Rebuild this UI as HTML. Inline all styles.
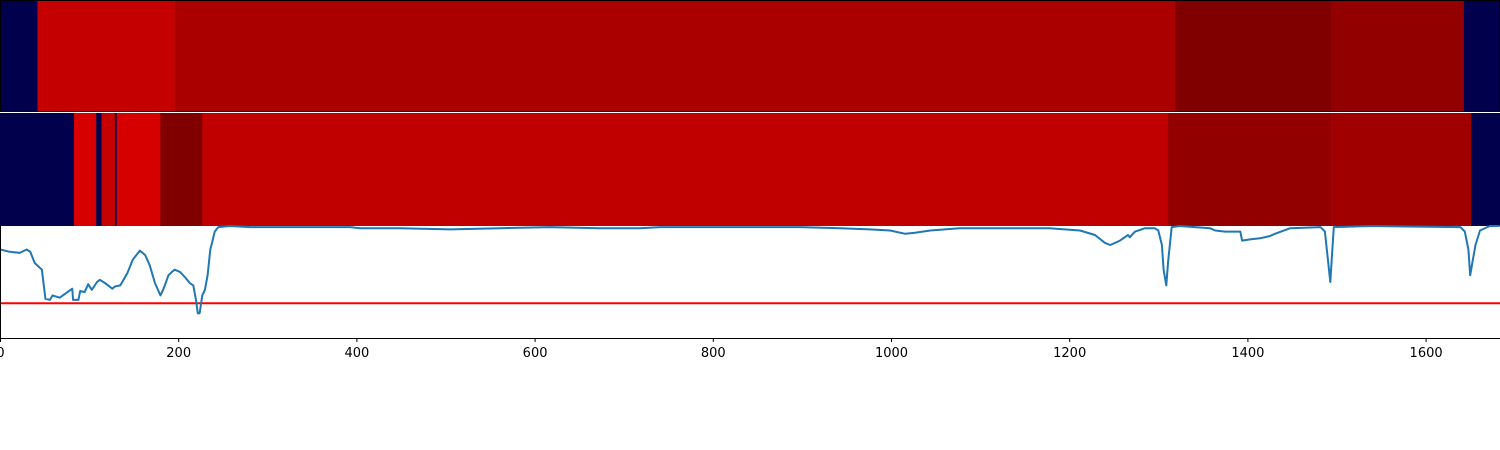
<!DOCTYPE html>
<html><head><meta charset="utf-8"><style>
html,body{margin:0;padding:0;background:#fff;}
svg{display:block;}
</style></head><body>
<svg id="chart" width="1500" height="450" xmlns="http://www.w3.org/2000/svg"></svg>
<script>
const xTicks=[0,200,400,600,800,1000,1200,1400,1600];
const row1Starts=[0,42,196,1319,1494,1643];
const row1Values=[0,0.865,0.917,1.0,0.964,0];
const row2Starts=[0,83,108,114,129,131,180,227,1311,1494,1651];
const row2Values=[0,0.83,0,0.865,0,0.83,1.0,0.874,0.964,0.937,0];
const lineX=[0,11,22,30,34,39,47,51,56,59,67,81,82,88,90,95,99,103,109,112,118,126,129,135,143,149,157,163,168,174,180,183,185,189,193,196,202,208,213,217,220,222,224,227,230,233,236,239,241,245,258,281,337,393,404,449,505,561,617,673,718,741,786,898,943,976,999,1016,1027,1044,1077,1122,1178,1212,1229,1240,1246,1257,1266,1268,1274,1285,1296,1300,1304,1306,1309,1311,1315,1324,1358,1364,1375,1392,1394,1403,1414,1425,1431,1448,1482,1487,1491,1493,1495,1497,1538,1639,1644,1648,1650,1652,1656,1661,1672,1683];
const lineV=[0.79,0.77,0.76,0.79,0.77,0.67,0.61,0.35,0.34,0.38,0.36,0.44,0.34,0.34,0.42,0.41,0.48,0.43,0.50,0.52,0.49,0.44,0.46,0.47,0.58,0.70,0.78,0.74,0.65,0.49,0.38,0.43,0.47,0.56,0.59,0.61,0.59,0.54,0.49,0.47,0.34,0.22,0.22,0.38,0.43,0.56,0.79,0.88,0.95,0.99,1.0,0.99,0.99,0.99,0.98,0.98,0.97,0.98,0.99,0.98,0.98,0.99,0.99,0.99,0.98,0.97,0.96,0.93,0.94,0.96,0.98,0.98,0.98,0.96,0.92,0.85,0.83,0.87,0.92,0.90,0.95,0.98,0.98,0.96,0.83,0.61,0.47,0.68,0.99,1.0,0.98,0.96,0.95,0.95,0.87,0.88,0.89,0.91,0.93,0.98,0.99,0.95,0.65,0.50,0.74,0.99,1.0,0.99,0.95,0.79,0.56,0.65,0.83,0.96,1.0,1.0];
const threshold=0.31;

const NS='http://www.w3.org/2000/svg';
const svg=document.getElementById('chart');
const X0=0,X1=1500,XMAX=1683.5;
const xs=v=>X0+(v/XMAX)*(X1-X0);
const LT=226,LB=338;
const ys=v=>LB-v*(LB-LT);
function cmap(v){ // seismic
  let r,g,b;
  if(v<0.25){r=0;g=0;b=0.3+v/0.25*0.7;}
  else if(v<0.5){const t=(v-0.25)/0.25;r=t;g=t;b=1;}
  else if(v<0.75){const t=(v-0.5)/0.25;r=1;g=1-t;b=1-t;}
  else {const t=(v-0.75)/0.25;r=1-t*0.5;g=0;b=0;}
  return `rgb(${Math.round(r*255)},${Math.round(g*255)},${Math.round(b*255)})`;
}
function mk(tag,attrs){const e=document.createElementNS(NS,tag);for(const k in attrs)e.setAttribute(k,attrs[k]);svg.appendChild(e);return e;}
function drawRow(starts,vals,y0,y1,name){
  for(let i=0;i<starts.length;i++){
    const s=starts[i],e=i+1<starts.length?starts[i+1]:XMAX;
    const r=mk('rect',{x:xs(s),y:y0,width:xs(e)-xs(s)+0.3,height:y1-y0,fill:cmap(vals[i])});
    
    
  }
}
drawRow(row1Starts,row1Values,0,112,'heatmap-row-1');
drawRow(row2Starts,row2Values,113,226,'heatmap-row-2');
const f1=mk('rect',{x:0.5,y:0.5,width:1499,height:111,fill:'none',stroke:'#000','stroke-width':1});



const th=mk('line',{x1:0,x2:1500,y1:ys(threshold),y2:ys(threshold),stroke:'#ff0000','stroke-width':2});


let d='';
for(let i=0;i<lineX.length;i++)d+=(i?'L':'M')+xs(lineX[i]).toFixed(1)+','+ys(lineV[i]).toFixed(1);
const p=mk('path',{d:d,fill:'none',stroke:'#1f77b4','stroke-width':2,'stroke-linejoin':'round'});


const ls=mk('line',{x1:0.5,x2:0.5,y1:LT,y2:LB,stroke:'#000','stroke-width':1});


const bs=mk('line',{x1:0,x2:1500,y1:LB+0.5,y2:LB+0.5,stroke:'#000','stroke-width':1});


xTicks.forEach(t=>{
  const x=xs(t)+0.5;
  const tk=mk('line',{x1:x,x2:x,y1:LB,y2:LB+4,stroke:'#000','stroke-width':1});
  
  
  const tx=mk('text',{x:x,y:LB+19,'text-anchor':'middle','font-family':'DejaVu Sans, Liberation Sans, sans-serif','font-size':13,fill:'#000'});
  tx.textContent=t;
  
  
});
</script>
</body></html>
